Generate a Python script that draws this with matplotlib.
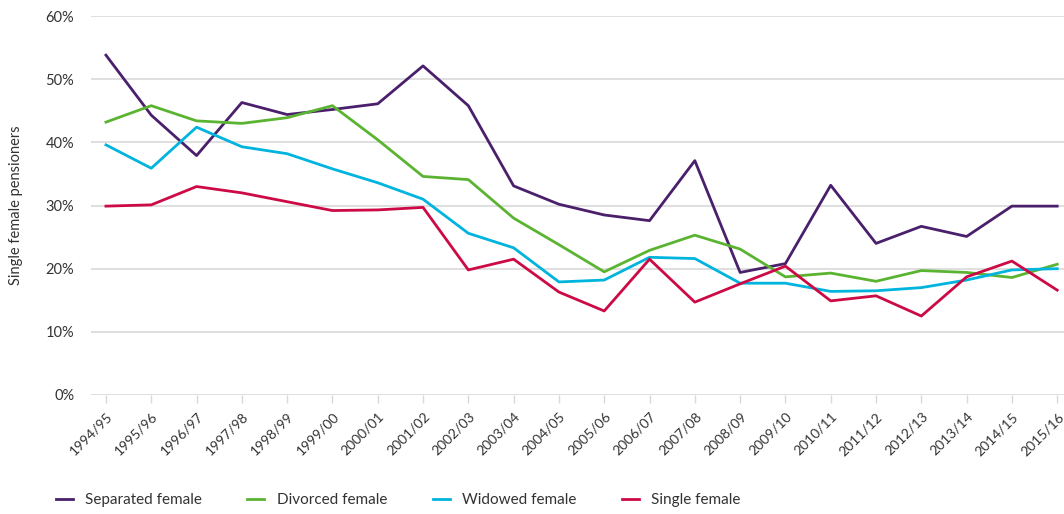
import matplotlib
matplotlib.use('Agg')
import matplotlib.pyplot as plt

years = ['1994/95', '1995/96', '1996/97', '1997/98', '1998/99', '1999/00', '2000/01',
         '2001/02', '2002/03', '2003/04', '2004/05', '2005/06', '2006/07', '2007/08',
         '2008/09', '2009/10', '2010/11', '2011/12', '2012/13', '2013/14', '2014/15', '2015/16']

separated = [53.8, 44.3, 37.9, 46.3, 44.4, 45.2, 46.1, 52.1, 45.8, 33.1, 30.2,
             28.5, 27.6, 37.1, 19.4, 20.8, 33.2, 24.0, 26.7, 25.1, 29.9, 29.9]
divorced = [43.2, 45.8, 43.4, 43.0, 43.9, 45.8, 40.4, 34.6, 34.1, 28.0, 23.8,
            19.5, 22.9, 25.3, 23.1, 18.7, 19.3, 18.0, 19.7, 19.4, 18.6, 20.7]
widowed = [39.6, 35.9, 42.4, 39.3, 38.2, 35.8, 33.6, 31.0, 25.6, 23.3, 17.9,
           18.2, 21.8, 21.6, 17.7, 17.7, 16.4, 16.5, 17.0, 18.2, 19.8, 20.0]
single = [29.9, 30.1, 33.0, 32.0, 30.6, 29.2, 29.3, 29.7, 19.8, 21.5, 16.3,
          13.3, 21.5, 14.7, 17.6, 20.4, 14.9, 15.7, 12.5, 18.7, 21.2, 16.6]

series = [('Separated female', separated, '#4a1f6b'),
          ('Divorced female', divorced, '#5bb431'),
          ('Widowed female', widowed, '#00b4de'),
          ('Single female', single, '#cc0a45')]

plt.rcParams['font.family'] = ['Lato', 'DejaVu Sans']
txt = '#333333'

fig = plt.figure(figsize=(10.64, 5.14), dpi=100)
ax = fig.add_axes([91/1064, 1 - 395/514, 1 - 91/1064, (395 - 16)/514])

x = list(range(len(years)))
for name, vals, col in series:
    ax.plot(x, vals, color=col, lw=2, label=name)

ax.set_xlim(-0.33, 21.15)
ax.set_ylim(0, 60)
ax.set_yticks(range(0, 61, 10))
ax.set_yticklabels([f'{v}%' for v in range(0, 61, 10)], fontsize=10.5, color=txt)
ax.yaxis.grid(True, color='#d9d9d9', lw=1.2)
ax.set_axisbelow(True)
ax.tick_params(axis='y', length=0, pad=12)
ax.set_xticks(x)
ax.set_xticklabels(years, rotation=45, ha='right', rotation_mode='anchor',
                   fontsize=10, color=txt)
ax.tick_params(axis='x', length=6, color='#d9d9d9', width=1, pad=5)
for s in ax.spines.values():
    s.set_visible(False)

fig.text(16/1064, 1 - 205/514, 'Single female pensioners', rotation=90,
         ha='center', va='center', fontsize=10.5, color=txt)

fig.legend(loc='center left', bbox_to_anchor=(42/1064, 1 - 500/514), ncol=4,
           frameon=False, fontsize=11, handlelength=1.1, handletextpad=0.8,
           columnspacing=3.0, labelcolor=txt)

fig.savefig('out.png', dpi=100)
